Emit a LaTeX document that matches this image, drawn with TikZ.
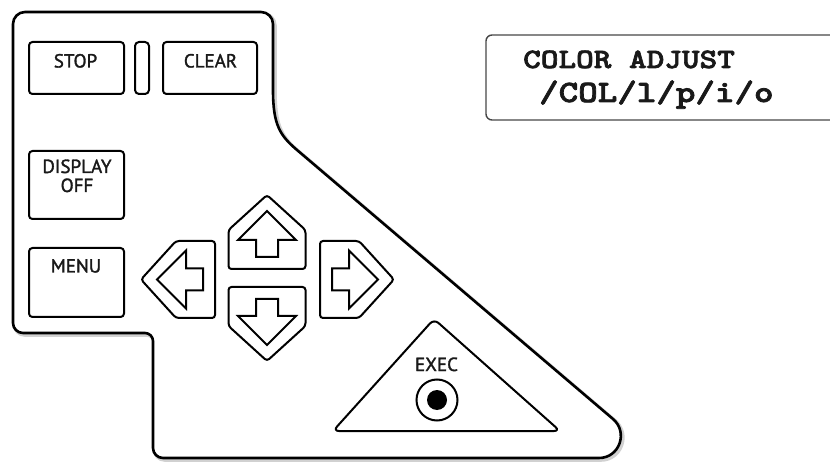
\documentclass[tikz,border=0pt]{standalone}
\usepackage{fontspec}
\setmainfont{PT Sans}[FakeBold=1.6]
\newfontfamily\lcdfont{lmmonolt10-bold.otf}[FakeStretch=1.2,FakeBold=2.5]
\begin{document}
\begin{tikzpicture}[x=1pt,y=-1pt,
  panel/.style={line width=2.6pt, line join=round},
  btn/.style={line width=2pt, rounded corners=3.5pt},
  lbl/.style={font=\fontsize{19}{19}\selectfont, anchor=base, inner sep=0pt, text=black!90},
  lcd/.style={anchor=base west, inner sep=0pt, text=black!90},
  arrowbtn/.pic={
    \draw[line width=2pt, rounded corners=3pt] (-38.5,0) -- (-38.5,-39) -- (0,-74) -- (38.5,-39) -- (38.5,0) -- cycle;
    \draw[line width=2pt, line join=miter] (0,-58) -- (29,-29) -- (11,-29) -- (11,-12) -- (-11,-12) -- (-11,-29) -- (-29,-29) -- cycle;
  }]
\useasboundingbox (0,0) rectangle (830,462);
\def\mypanelpath{(13,24) .. controls (13,17.4) and (18.4,12) .. (25,12)
  -- (261,12) .. controls (267.6,12) and (273,17.4) .. (273,24)
  -- (273,90) .. controls (273,125) and (280,135.5) .. (297,150)
  -- (613,419) .. controls (628.6,432.3) and (619.4,458) .. (599,458)
  -- (163,458) .. controls (157.5,458) and (153,453.5) .. (153,448)
  -- (153,341) .. controls (153,336.6) and (149.4,333) .. (145,333)
  -- (23,333) .. controls (17.5,333) and (13,328.5) .. (13,323) -- cycle}
% soft shadow
\draw[black!18, line width=4pt, line join=round, shift={(1.8,1.8)}] \mypanelpath;
\fill[white] \mypanelpath;
\draw[panel] \mypanelpath;

% top buttons
\draw[btn] (29,42) rectangle (124,94);
\draw[btn, rounded corners=4pt] (135,42) rectangle (149,94);
\draw[btn] (163,42) rectangle (257,94);
\draw[btn] (29,151) rectangle (124,219);
\draw[btn] (29,248) rectangle (124,317);

\node[lbl] (stop) at (75.5,67.5) {STOP};
\node[lbl] (clear) at (210.5,67.5) {CLEAR};
\node[lbl] (disp) at (77,173) {DISPLAY};
\node[lbl] (off) at (77,192) {OFF};
\node[lbl] (menu) at (76,272.5) {MENU};

% arrow pad
\pic (up) at (267,269) {arrowbtn};
\pic[rotate=180] (down) at (267,287) {arrowbtn};
\pic[rotate=90] (left) at (215,279.5) {arrowbtn};
\pic[rotate=-90] (right) at (320,279.5) {arrowbtn};

% exec
\draw[line width=2pt, rounded corners=6pt] (333,431) -- (434,319) -- (560,431) -- cycle;
\node[lbl] (exec) at (436.5,371) {EXEC};
\node[draw, circle, line width=2pt, minimum size=41pt, inner sep=0pt] (execring) at (437,400) {};
\node[fill, circle, minimum size=20pt, inner sep=0pt] (execdot) at (437,400) {};

% display
\draw[gray!55!black, line width=1.4pt, rounded corners=6pt] (486,35) rectangle (850,120);
\node[lcd, font=\lcdfont\fontsize{28}{30}\selectfont] (line1) at (523,68) {COLOR ADJUST};
\node[lcd, font=\lcdfont\fontsize{31}{33}\selectfont] (line2) at (539,102) {/COL/l/p/i/o};
\end{tikzpicture}
\end{document}
